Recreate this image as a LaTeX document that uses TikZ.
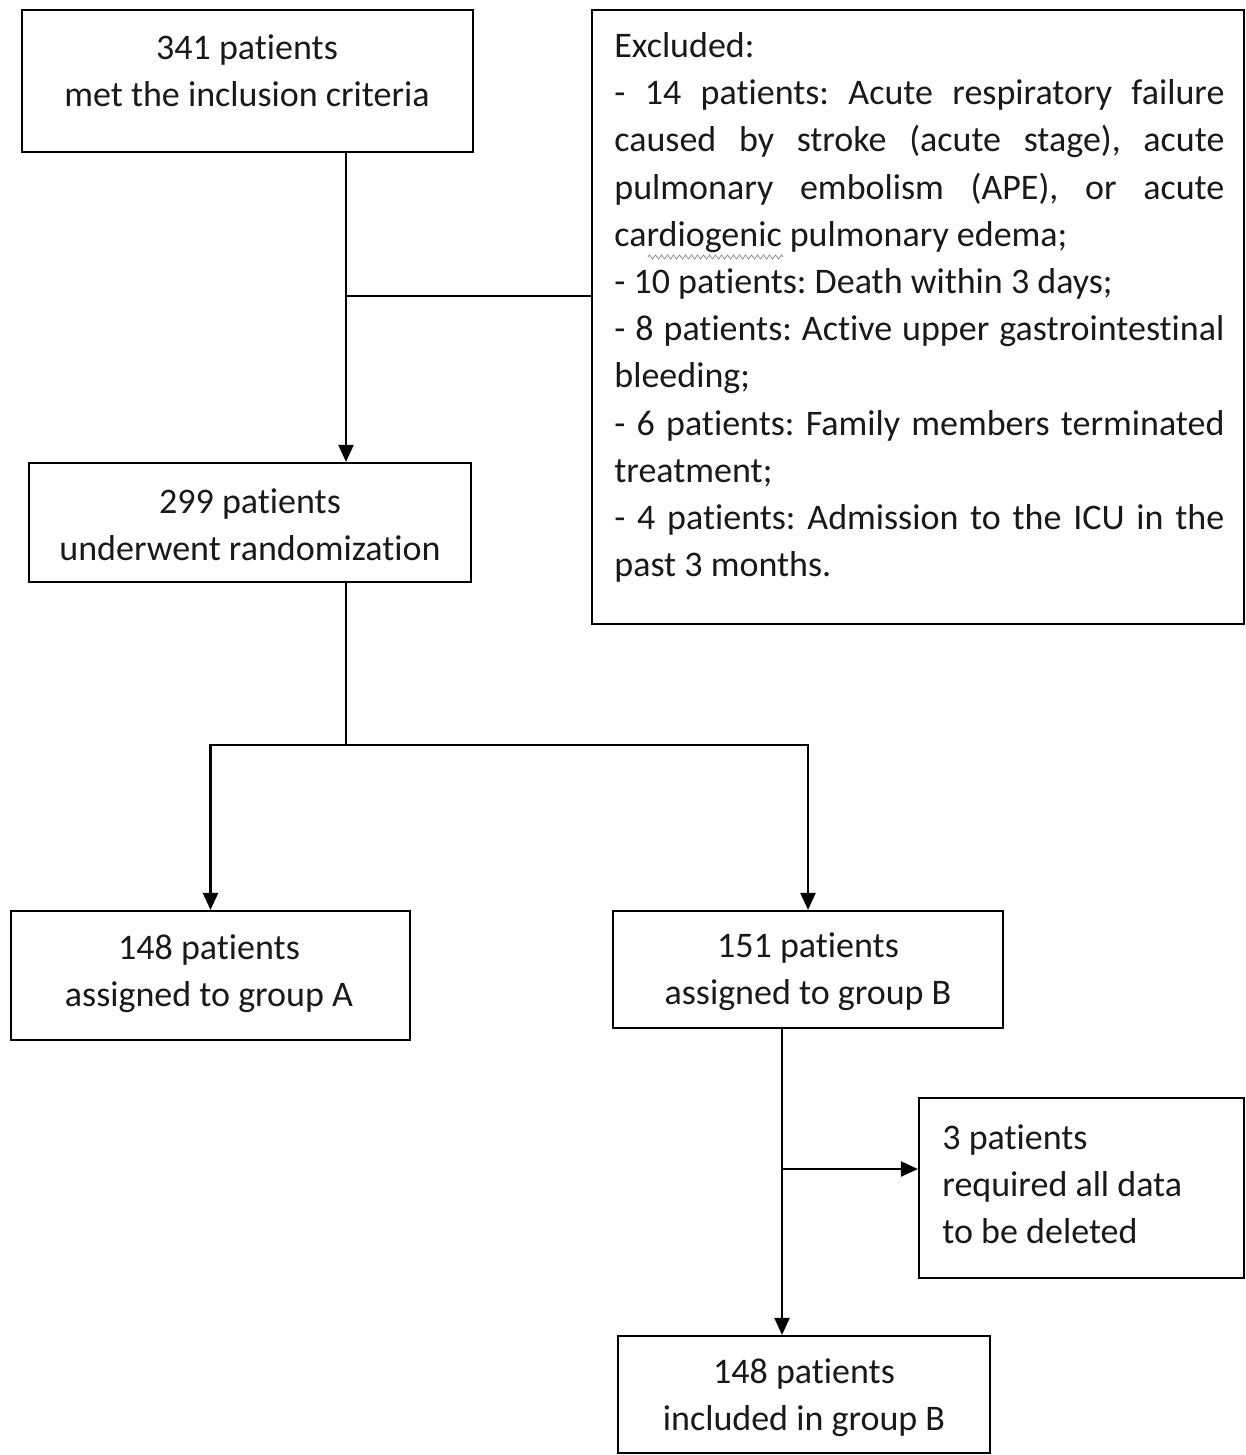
\documentclass[tikz,border=0pt]{standalone}
\usepackage{fontspec}
\setmainfont{Carlito}[Ligatures={NoCommon}]
\usetikzlibrary{arrows.meta,decorations.pathmorphing}
\frenchspacing
\begin{document}
\begin{tikzpicture}[x=0.5pt,y=-0.5pt,
  boxline/.style={draw=black,line width=1.1pt},
  conn/.style={draw=black,line width=1.1pt},
  arr/.style={conn,-{Triangle[length=8.5pt,width=7.5pt]}},
  txt/.style={align=center,inner sep=0pt,font=\fontsize{18pt}{23.6pt}\selectfont,text=black!90},
  ltxt/.style={align=left,inner sep=0pt,font=\fontsize{18pt}{23.6pt}\selectfont,text=black!90}]
\useasboundingbox (0,0) rectangle (1246,1455);
% boxes
\node[boxline,minimum width=225.5pt,minimum height=71pt] (box1) at (247.5,81) {};
\node[boxline,minimum width=326pt,minimum height=307pt] (excl) at (918,317) {};
\node[boxline,minimum width=221pt,minimum height=59.5pt] (box2) at (250,522.5) {};
\node[boxline,minimum width=199.5pt,minimum height=64.5pt] (boxA) at (210.5,975.5) {};
\node[boxline,minimum width=195pt,minimum height=58.5pt] (boxB) at (808,969.5) {};
\node[boxline,minimum width=162.5pt,minimum height=90pt] (boxD) at (1081.5,1188) {};
\node[boxline,minimum width=186pt,minimum height=58.5pt] (boxC) at (804,1394.5) {};
% texts
\node[txt] (t1) at (247,71) {341 patients\\met the inclusion criteria};
\node[txt] (t2) at (250,525) {299 patients\\underwent randomization};
\node[txt] (tA) at (209,973.5) {148 patients\\assigned to group A};
\node[txt] (tB) at (808,971.5) {151 patients\\assigned to group B};
\node[ltxt,anchor=west] (tD) at (942,1184.5) {3 patients\\required all data\\to be deleted};
\node[txt] (tC) at (804,1398) {148 patients\\included in group B};
\node[ltxt,anchor=west] (tE) at (614,307.5) {Excluded:\\
\makebox[305pt][s]{- 14 patients: Acute respiratory failure}\\
\makebox[305pt][s]{caused by stroke (acute stage), acute}\\
\makebox[305pt][s]{pulmonary embolism (APE), or acute}\\
cardiogenic pulmonary edema;\\
- 10 patients: Death within 3 days;\\
\makebox[305pt][s]{- 8 patients: Active upper gastrointestinal}\\
bleeding;\\
\makebox[305pt][s]{- 6 patients: Family members terminated}\\
treatment;\\
\makebox[305pt][s]{- 4 patients: Admission to the ICU in the}\\
past 3 months.};
\coordinate (w1) at (648,257);
\coordinate (w2) at (783,257);
\draw[black!45,line width=0.4pt,decorate,decoration={zigzag,amplitude=1pt,segment length=3pt}] (w1) -- (w2);
% connectors
\coordinate (j1) at (346,296);
\coordinate (j2) at (346,745);
\coordinate (j3) at (782,1169);
\draw[arr] (box1.south -| j1) -- (box2.north -| j1);
\draw[conn] (j1) -- (excl.west |- j1);
\draw[conn] (box2.south -| j2) -- (j2);
\draw[arr] (j2) -| (boxA.north);
\draw[arr] (j2) -| (boxB.north);
\draw[arr] (boxB.south -| j3) -- (boxC.north -| j3);
\draw[arr] (j3) -- (boxD.west |- j3);
\end{tikzpicture}
\end{document}
